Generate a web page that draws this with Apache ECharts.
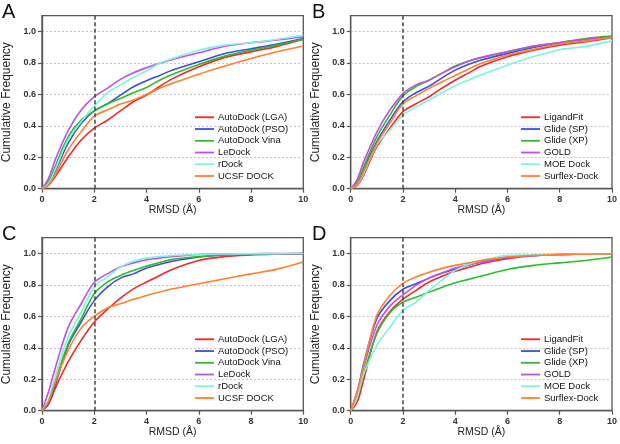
<!DOCTYPE html>
<html>
<head>
<meta charset="utf-8">
<script src="https://cdn.jsdelivr.net/npm/echarts@6/dist/echarts.min.js"></script>
<style>
html,body{margin:0;padding:0;background:#fff;}
#chart{width:620px;height:444px;}
</style>
</head>
<body>
<div id="chart"></div>
<script>
// ---- data ----
const rmsd = [0, 0.25, 0.5, 1, 1.5, 2, 2.5, 3, 3.5, 4, 4.5, 5, 6, 7, 8, 9, 10];
const methodsAC = ['AutoDock (LGA)', 'AutoDock (PSO)', 'AutoDock Vina', 'LeDock', 'rDock', 'UCSF DOCK'];
const methodsBD = ['LigandFit', 'Glide (SP)', 'Glide (XP)', 'GOLD', 'MOE Dock', 'Surflex-Dock'];
const panelLabels = ['A', 'B', 'C', 'D'];
const xTicks = [0, 2, 4, 6, 8, 10];
const yTicks = [0, 0.2, 0.4, 0.6, 0.8, 1.0];

// Panel A
const a_lga   = [0, 0.023, 0.076, 0.20, 0.31, 0.385, 0.435, 0.495, 0.553, 0.595, 0.65, 0.70, 0.775, 0.835, 0.87, 0.905, 0.95];
const a_pso   = [0, 0.034, 0.108, 0.29, 0.415, 0.495, 0.54, 0.595, 0.648, 0.686, 0.72, 0.755, 0.807, 0.86, 0.89, 0.92, 0.955];
const a_vina  = [0, 0.045, 0.14, 0.33, 0.436, 0.493, 0.538, 0.574, 0.61, 0.644, 0.69, 0.728, 0.79, 0.843, 0.88, 0.913, 0.95];
const a_ledock= [0, 0.066, 0.18, 0.37, 0.50, 0.585, 0.638, 0.695, 0.737, 0.769, 0.797, 0.822, 0.864, 0.906, 0.928, 0.945, 0.966];
const a_rdock = [0, 0.034, 0.12, 0.31, 0.425, 0.525, 0.61, 0.66, 0.707, 0.75, 0.797, 0.828, 0.88, 0.913, 0.928, 0.95, 0.975];
const a_ucsf  = [0, 0.023, 0.087, 0.246, 0.362, 0.462, 0.50, 0.538, 0.564, 0.60, 0.638, 0.67, 0.728, 0.78, 0.828, 0.871, 0.907];

// Panel B
const b_ligandfit = [0, 0.02, 0.087, 0.267, 0.383, 0.49, 0.54, 0.585, 0.64, 0.69, 0.735, 0.78, 0.839, 0.881, 0.913, 0.934, 0.96];
const b_glidesp   = [0, 0.035, 0.13, 0.30, 0.436, 0.553, 0.61, 0.652, 0.705, 0.754, 0.79, 0.818, 0.86, 0.898, 0.928, 0.95, 0.965];
const b_glidexp   = [0, 0.045, 0.14, 0.33, 0.468, 0.59, 0.65, 0.69, 0.735, 0.78, 0.81, 0.833, 0.871, 0.905, 0.93, 0.955, 0.97];
const b_gold      = [0, 0.06, 0.172, 0.36, 0.50, 0.605, 0.66, 0.69, 0.735, 0.775, 0.81, 0.835, 0.871, 0.907, 0.928, 0.95, 0.962];
const b_moe       = [0, 0.025, 0.097, 0.278, 0.373, 0.468, 0.52, 0.564, 0.61, 0.655, 0.69, 0.725, 0.785, 0.84, 0.884, 0.905, 0.94];
const b_surflex   = [0, 0.03, 0.108, 0.288, 0.415, 0.54, 0.59, 0.638, 0.68, 0.72, 0.76, 0.797, 0.85, 0.886, 0.92, 0.94, 0.962];

// Panel C
const c_lga   = [0, 0.04, 0.14, 0.31, 0.447, 0.564, 0.644, 0.716, 0.775, 0.818, 0.86, 0.90, 0.955, 0.98, 0.99, 0.995, 0.998];
const c_pso   = [0, 0.05, 0.16, 0.415, 0.564, 0.70, 0.786, 0.843, 0.87, 0.907, 0.93, 0.95, 0.977, 0.99, 0.995, 0.997, 0.999];
const c_vina  = [0, 0.06, 0.18, 0.426, 0.585, 0.744, 0.818, 0.86, 0.892, 0.92, 0.942, 0.962, 0.98, 0.99, 0.995, 0.997, 0.999];
const c_ledock= [0, 0.12, 0.267, 0.53, 0.68, 0.815, 0.87, 0.913, 0.94, 0.96, 0.97, 0.98, 0.993, 0.996, 0.998, 0.999, 1.0];
const c_rdock = [0, 0.07, 0.214, 0.468, 0.627, 0.786, 0.85, 0.913, 0.95, 0.97, 0.98, 0.987, 0.993, 0.996, 0.998, 0.999, 1.0];
const c_ucsf  = [0, 0.06, 0.18, 0.383, 0.525, 0.60, 0.653, 0.68, 0.708, 0.733, 0.755, 0.775, 0.807, 0.839, 0.87, 0.90, 0.945];

// Panel D
const d_ligandfit = [0, 0.055, 0.20, 0.50, 0.63, 0.708, 0.765, 0.818, 0.855, 0.886, 0.91, 0.934, 0.966, 0.985, 0.993, 0.995, 0.998];
const d_glidesp   = [0, 0.12, 0.30, 0.585, 0.70, 0.772, 0.807, 0.843, 0.875, 0.90, 0.925, 0.945, 0.975, 0.987, 0.993, 0.995, 0.998];
const d_glidexp   = [0, 0.087, 0.235, 0.49, 0.623, 0.69, 0.722, 0.754, 0.785, 0.814, 0.835, 0.856, 0.898, 0.924, 0.94, 0.955, 0.977];
const d_gold      = [0, 0.12, 0.277, 0.542, 0.665, 0.737, 0.797, 0.843, 0.875, 0.907, 0.93, 0.945, 0.975, 0.987, 0.993, 0.995, 0.998];
const d_moe       = [0, 0.087, 0.235, 0.415, 0.53, 0.638, 0.69, 0.765, 0.83, 0.892, 0.93, 0.955, 0.987, 0.99, 0.995, 0.997, 0.998];
const d_surflex   = [0, 0.12, 0.288, 0.606, 0.733, 0.81, 0.85, 0.881, 0.905, 0.924, 0.94, 0.955, 0.977, 0.987, 0.993, 0.995, 0.998];

// ---- styles / layout ----
const lineColors = ['#ee2a2a', '#3a4fd8', '#2dbb2d', '#c24ee8', '#7ef3e0', '#ff8030'];
const panels = [
  {names: methodsAC, vals: [a_lga, a_pso, a_vina, a_ledock, a_rdock, a_ucsf], left: 40, top: 15.7, width: 263.3, lx: 195, lt: 111.4, px: 2, py: 2},
  {names: methodsBD, vals: [b_ligandfit, b_glidesp, b_glidexp, b_gold, b_moe, b_surflex], left: 350.7, top: 15.7, width: 262.6, lx: 521, lt: 111.4, px: 312, py: 2},
  {names: methodsAC, vals: [c_lga, c_pso, c_vina, c_ledock, c_rdock, c_ucsf], left: 40, top: 237.7, width: 263.3, lx: 195, lt: 333.4, px: 2, py: 224},
  {names: methodsBD, vals: [d_ligandfit, d_glidesp, d_glidexp, d_gold, d_moe, d_surflex], left: 350.7, top: 237.7, width: 262.6, lx: 521, lt: 333.4, px: 312, py: 224}
];
const FONT = "'Liberation Sans', Arial, Helvetica, sans-serif";
const plotH = 173;

const grids = [], xAxes = [], yAxes = [], series = [], legends = [], titles = [];
panels.forEach((p, pi) => {
  grids.push({left: p.left, top: p.top, width: p.width, height: plotH, show: true,
    borderColor: '#555', borderWidth: 1.3, backgroundColor: 'transparent', containLabel: false});
  xAxes.push({type: 'value', gridIndex: pi, min: xTicks[0], max: xTicks[xTicks.length - 1], interval: xTicks[1] - xTicks[0],
    name: 'RMSD (Å)', nameLocation: 'middle', nameGap: 14,
    nameTextStyle: {fontFamily: FONT, fontSize: 10.5, color: '#222'},
    axisLine: {show: true, onZero: false, lineStyle: {color: '#555', width: 1.3}},
    axisTick: {show: true, length: 4, lineStyle: {color: '#555', width: 1.2}},
    axisLabel: {fontFamily: FONT, fontSize: 9, fontWeight: 'bold', color: '#333', margin: 6},
    splitLine: {show: false}});
  yAxes.push({type: 'value', gridIndex: pi, min: yTicks[0], max: 1.1, interval: 0.2,
    name: 'Cumulative Frequency', nameLocation: 'middle', nameGap: 29,
    nameTextStyle: {fontFamily: FONT, fontSize: 12, color: '#222'},
    axisLine: {show: true, onZero: false, lineStyle: {color: '#555', width: 1.3}},
    axisTick: {show: true, length: 4, lineStyle: {color: '#555', width: 1.2}},
    axisLabel: {fontFamily: FONT, fontSize: 9, fontWeight: 'bold', color: '#333', margin: 6,
      showMaxLabel: false, formatter: v => (yTicks.some(t => Math.abs(t - v) < 1e-9) ? v.toFixed(1) : '')},
    splitLine: {show: true, showMinLine: false, showMaxLine: false, lineStyle: {color: '#c4c4c4', type: [2, 2], width: 1}}});
  p.names.forEach((name, i) => {
    const s = {type: 'line', name: name, xAxisIndex: pi, yAxisIndex: pi,
      data: rmsd.map((x, j) => [x, p.vals[i][j]]), smooth: 0.35, symbol: 'none',
      lineStyle: {width: 1.6, color: lineColors[i]}, itemStyle: {color: lineColors[i]},
      emphasis: {disabled: true}, animation: false};
    if (i === 0) {
      s.markLine = {silent: true, symbol: ['none', 'none'], label: {show: false},
        lineStyle: {type: [4, 2.5], color: '#444', width: 1.5}, data: [{xAxis: 2}], animation: false};
    }
    series.push(s);
  });
  legends.push({orient: 'vertical', left: p.lx, top: p.lt, padding: 0, itemGap: 0,
    icon: 'rect', itemWidth: 19, itemHeight: 1.8, data: p.names, selectedMode: false,
    textStyle: {fontFamily: FONT, fontSize: 9.5, color: '#111', lineHeight: 11.75, padding: [0, 0, 0, -1]}});
  titles.push({text: panelLabels[pi], left: p.px, top: p.py, padding: 0,
    textStyle: {fontFamily: FONT, fontSize: 20, fontWeight: 'normal', color: '#111'}});
});

const chart = echarts.init(document.getElementById('chart'), null, {renderer: 'canvas'});
chart.setOption({
  animation: false,
  backgroundColor: '#fff',
  title: titles,
  grid: grids,
  xAxis: xAxes,
  yAxis: yAxes,
  legend: legends,
  series: series
});
</script>
</body>
</html>
